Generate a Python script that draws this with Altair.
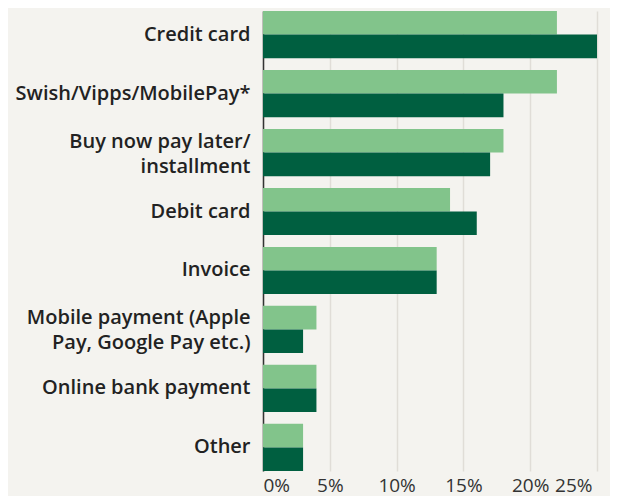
import altair as alt
import pandas as pd

categories = [
    "Credit card",
    "Swish/Vipps/MobilePay*",
    "Buy now pay later/|installment",
    "Debit card",
    "Invoice",
    "Mobile payment (Apple|Pay, Google Pay etc.)",
    "Online bank payment",
    "Other",
]
series_names = ["Series A", "Series B"]
values_a = [22, 22, 18, 14, 13, 4, 4, 3]
values_b = [25, 18, 17, 16, 13, 3, 4, 3]
colors = ["#82c48b", "#005f40"]

rows = []
for c, a, b in zip(categories, values_a, values_b):
    rows.append({"category": c, "series": series_names[0], "value": a / 100})
    rows.append({"category": c, "series": series_names[1], "value": b / 100})
df = pd.DataFrame(rows)

FONT = "Open Sans"

chart = (
    alt.Chart(df)
    .mark_bar()
    .encode(
        y=alt.Y(
            "category:N",
            sort=categories,
            title=None,
            scale=alt.Scale(paddingInner=0.2, paddingOuter=0),
            axis=alt.Axis(
                labelExpr="split(datum.label, '|')",
                labelFont=FONT,
                labelFontSize=20,
                labelFontWeight=600,
                labelColor="#222222",
                labelPadding=13,
                labelLineHeight=25,
                labelOffset={"condition": {"test": "indexof(datum.label, '|') >= 0", "value": -11}, "value": 0},
                ticks=False,
                domain=True,
                domainColor="#333333",
                domainWidth=1.5,
                grid=False,
                labelLimit=300,
            ),
        ),
        yOffset=alt.YOffset("series:N", sort=series_names, scale=alt.Scale(paddingInner=0, paddingOuter=0)),
        x=alt.X(
            "value:Q",
            title=None,
            scale=alt.Scale(domain=[0, 0.25], nice=False),
            axis=alt.Axis(
                format=".0%",
                values=[0, 0.05, 0.10, 0.15, 0.20, 0.25],
                labelFont=FONT,
                labelFontSize=19,
                labelColor="#333333",
                labelPadding=5,
                labelOffset={"condition": {"test": "datum.value == 0.25", "value": -5}, "value": 0},
                ticks=False,
                domain=False,
                grid=True,
                gridColor="#e0ddd7",
                gridWidth=1.5,
            ),
        ),
        color=alt.Color(
            "series:N",
            sort=series_names,
            scale=alt.Scale(domain=series_names, range=colors),
            legend=None,
        ),
    )
    .properties(
        width=334,
        height=460,
        background="#f4f3ef",
        padding={"left": 255, "top": 3, "right": 13, "bottom": 25},
        autosize=alt.AutoSizeParams(type="none"),
    )
    .configure_view(stroke=None)
)

chart.save("out.html", embed_options={"renderer": "svg", "actions": False})
